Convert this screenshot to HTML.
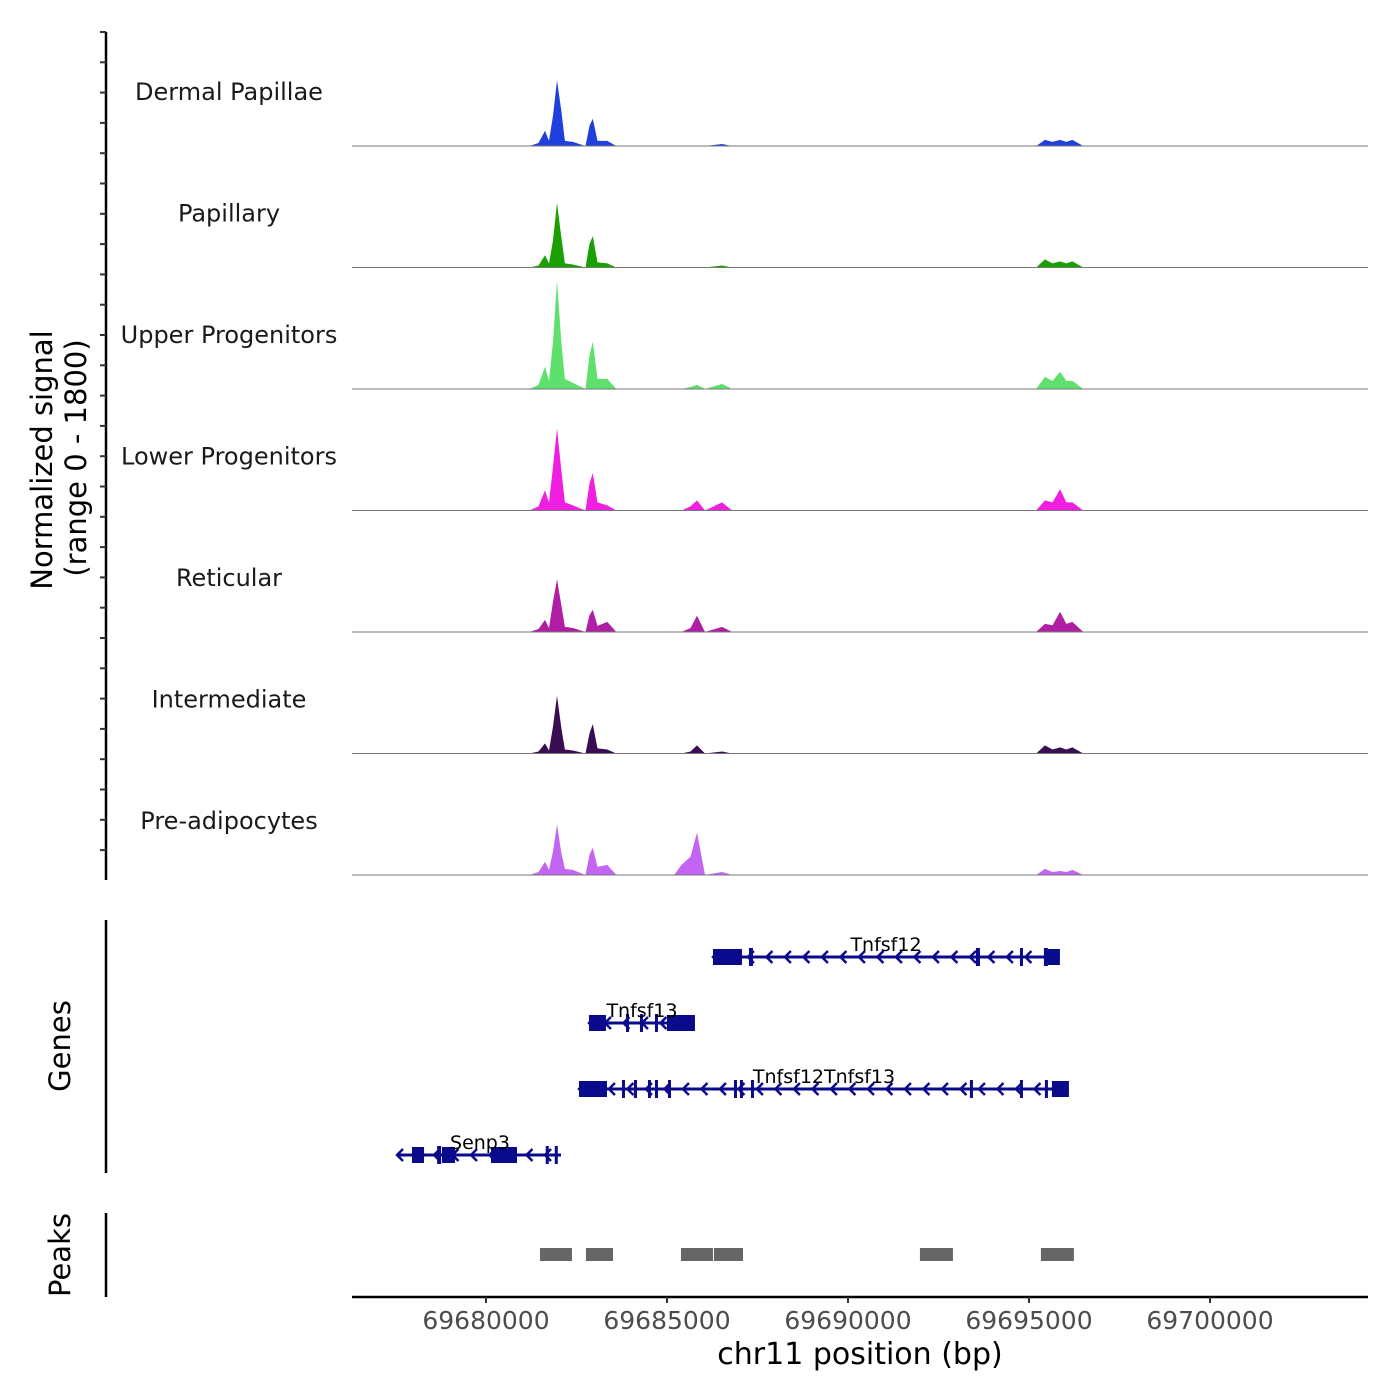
<!DOCTYPE html>
<html><head><meta charset="utf-8">
<style>
html,body{margin:0;padding:0;background:#fff;}
svg{display:block;font-family:"DejaVu Sans","Liberation Sans",sans-serif;}
</style></head>
<body>
<svg id="chart" width="1400" height="1400" viewBox="0 0 1400 1400" xmlns="http://www.w3.org/2000/svg"></svg>
<script>
// ---- data ----
const trackNames = ["Dermal Papillae","Papillary","Upper Progenitors","Lower Progenitors","Reticular","Intermediate","Pre-adipocytes"];
const trackColors = ["#1f40dd","#1aa000","#5ee06c","#f01ee0","#b01ea4","#3a0c52","#c464f2"];
const positions = [69676600,69681200,69681450,69681630,69681740,69681850,69681960,69682080,69682180,69682400,69682750,69682860,69682950,69683080,69683350,69683600,69685200,69685400,69685650,69685830,69686050,69686520,69686800,69695200,69695440,69695650,69695860,69696030,69696200,69696500,69704500];
const sigDermal = [0,0,45,225,75,450,975,525,75,60,0,300,405,75,75,0,0,0,0,0,0,30,0,0,90,60,90,60,90,0,0];
const sigPapillary = [0,0,30,180,60,400,960,450,60,45,0,350,465,75,60,0,0,0,0,0,0,30,0,0,120,60,90,60,90,0,0];
const sigUpper = [0,0,60,330,120,700,1600,700,150,90,0,500,700,150,150,0,0,0,30,60,0,75,0,0,180,120,255,120,120,0,0];
const sigLower = [0,0,60,300,120,650,1215,600,120,75,0,400,555,120,75,0,0,0,60,150,0,120,0,0,150,120,315,120,120,0,0];
const sigReticular = [0,0,45,180,60,450,780,400,75,60,0,250,330,90,150,0,0,0,60,240,0,75,0,0,120,100,300,120,150,0,0];
const sigIntermediate = [0,0,30,150,45,400,855,380,60,45,0,300,435,75,60,0,0,0,30,120,0,30,0,0,120,60,90,60,90,0,0];
const sigPreadipo = [0,0,45,195,75,350,750,330,90,75,0,300,405,120,150,0,0,150,270,630,0,45,0,0,90,45,60,45,75,0,0];
const signals = [sigDermal,sigPapillary,sigUpper,sigLower,sigReticular,sigIntermediate,sigPreadipo];
const xTicks = [69680000,69685000,69690000,69695000,69700000];
const geneNames = ["Tnfsf12","Tnfsf13","Tnfsf12Tnfsf13","Senp3"];
const geneStarts = [69686270,69682845,69682569,69677542];
const geneEnds = [69695854,69685772,69696103,69682072];
const geneExons = [
 [[69686270,69687071],[69687264,69687375],[69693534,69693645],[69694750,69694832],[69695412,69695522],[69695522,69695854]],
 [[69682845,69683314],[69683867,69683950],[69684253,69684336],[69684668,69684751],[69684999,69685772]],
 [[69682569,69683342],[69683756,69683839],[69684087,69684170],[69684474,69684557],[69684668,69684751],[69685027,69685110],[69686850,69686933],[69687015,69687098],[69687320,69687402],[69693368,69693451],[69694750,69694832],[69695440,69695523],[69695633,69696103]],
 [[69677956,69678288],[69678650,69678760],[69678784,69679143],[69680138,69680856],[69681650,69681733],[69681900,69681983]]
];
const peakStarts = [69681491,69682762,69685386,69686298,69691987,69695329];
const peakEnds = [69682375,69683508,69686270,69687099,69692899,69696240];

// ---- scales ----
const NS="http://www.w3.org/2000/svg";
const svg=document.getElementById('chart');
const X0=486, PXBP=181/5000;
function xs(bp){return X0+(bp-69680000)*PXBP;}
const trackH=121.5, baseFirst=146, maxSig=1800;
function ys(i,v){return baseFirst+i*trackH - v/maxSig*trackH;}
function mk(tag,attrs,parent){const e=document.createElementNS(NS,tag);for(const k in attrs)e.setAttribute(k,attrs[k]);(parent||svg).appendChild(e);return e;}

// left axis signal
const ax=mk('g',{});


mk('line',{x1:106,y1:32,x2:106,y2:880,stroke:'#000','stroke-width':2.5},ax);
for(let y=32;y<=880;y+=30.3){mk('line',{x1:100,y1:y,x2:106,y2:y,stroke:'#333','stroke-width':2},ax);}
const yl=mk('text',{x:0,y:0,transform:'translate(52,460) rotate(-90)','text-anchor':'middle','font-size':29,fill:'#000'});
yl.textContent='Normalized signal';


const yl2=mk('text',{x:0,y:0,transform:'translate(86,458) rotate(-90)','text-anchor':'middle','font-size':29,fill:'#000'});
yl2.textContent='(range 0 - 1800)';



// tracks
for(let i=0;i<signals.length;i++){
  const g=mk('g',{});
  
  
  const base=ys(i,0);
  let d='M'+xs(positions[0])+','+base;
  for(let j=0;j<positions.length;j++){d+=' L'+xs(positions[j]).toFixed(1)+','+ys(i,signals[i][j]).toFixed(1);}
  d+=' L'+xs(positions[positions.length-1])+','+base+' Z';
  const p=mk('path',{d:d,fill:trackColors[i],stroke:'none'},g);
  
  
  mk('line',{x1:352,y1:base,x2:1368,y2:base,stroke:'#777','stroke-width':1},g);
  const t=mk('text',{x:229,y:base-46,'text-anchor':'middle','font-size':24,fill:'#1a1a1a'},g);
  t.textContent=trackNames[i];
  
  
}

// genes panel
const gp=mk('g',{});


mk('line',{x1:106,y1:920,x2:106,y2:1173,stroke:'#000','stroke-width':2.5},gp);
const gt=mk('text',{x:0,y:0,transform:'translate(70,1046) rotate(-90)','text-anchor':'middle','font-size':29,fill:'#000'},gp);
gt.textContent='Genes';


const rowY=[957,1023,1089,1155];
const labX=[886,642,824,480];
for(let i=0;i<geneNames.length;i++){
  const g=mk('g',{},gp);
  
  
  const y=rowY[i], x1=xs(geneStarts[i]), x2=xs(geneEnds[i]);
  mk('line',{x1:x1,y1:y,x2:x2,y2:y,stroke:'#0a0a8c','stroke-width':3},g);
  for(let x=x2-14;x>x1+8;x-=18.5){
    mk('polyline',{points:(x+4)+','+(y-6)+' '+(x-2)+','+y+' '+(x+4)+','+(y+6),fill:'none',stroke:'#0a0a8c','stroke-width':2.5},g);
  }
  mk('polyline',{points:(x1+6)+','+(y-6)+' '+x1+','+y+' '+(x1+6)+','+(y+6),fill:'none',stroke:'#0a0a8c','stroke-width':2.5},g);
  geneExons[i].forEach(e=>{
    const a=xs(e[0]),b=xs(e[1]);
    const w=Math.max(3,b-a);
    const thick=(b-a)>8;
    mk('rect',{x:a,y:y-(thick?8:9),width:w,height:thick?16:18,fill:'#0a0a8c'},g);
  });
  const t=mk('text',{x:labX[i],y:y-6,'text-anchor':'middle','font-size':19,fill:'#000'},g);
  t.textContent=geneNames[i];
}

// peaks panel
const pp=mk('g',{});


mk('line',{x1:106,y1:1213,x2:106,y2:1297,stroke:'#000','stroke-width':2.5},pp);
const pt=mk('text',{x:0,y:0,transform:'translate(70,1255) rotate(-90)','text-anchor':'middle','font-size':29,fill:'#000'},pp);
pt.textContent='Peaks';


for(let i=0;i<peakStarts.length;i++){
  const r=mk('rect',{x:xs(peakStarts[i]),y:1248,width:xs(peakEnds[i])-xs(peakStarts[i]),height:13,fill:'#666'},pp);
  
  
}

// x axis
const xa=mk('g',{});


mk('line',{x1:352,y1:1297,x2:1368,y2:1297,stroke:'#000','stroke-width':2.5},xa);
xTicks.forEach(v=>{
  const x=xs(v);
  mk('line',{x1:x,y1:1297,x2:x,y2:1303,stroke:'#333','stroke-width':2},xa);
  const t=mk('text',{x:x,y:1329,'text-anchor':'middle','font-size':25,fill:'#4d4d4d'},xa);
  t.textContent=v;
  
  
});
const xt=mk('text',{x:860,y:1364,'text-anchor':'middle','font-size':30,fill:'#000'},xa);
xt.textContent='chr11 position (bp)';


</script>
</body></html>
